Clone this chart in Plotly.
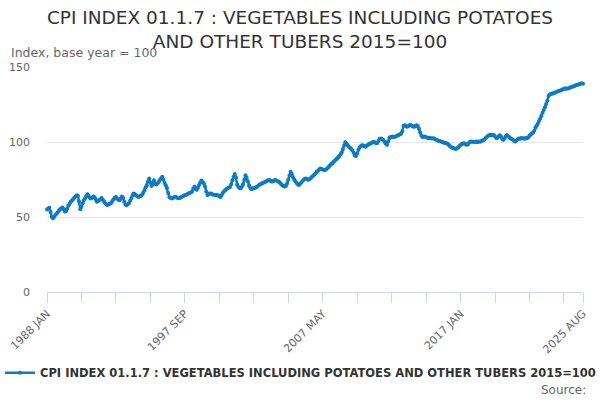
import plotly.graph_objects as go

# CPI index 01.1.7 vegetables incl. potatoes and other tubers (2015=100), monthly
start_year = 1988
months = ['JAN', 'FEB', 'MAR', 'APR', 'MAY', 'JUN', 'JUL', 'AUG', 'SEP', 'OCT', 'NOV', 'DEC']

values = [
    55.0, 55.6, 56.2, 53.4, 50.1, 49.2, 50.0, 51.3, 52.1, 53.0, 54.2, 55.1,  # 1988
    55.8, 56.4, 55.1, 53.6, 53.9, 55.7, 57.6, 58.9, 60.1, 61.0, 61.9, 62.8,  # 1989
    63.6, 64.5, 64.2, 60.3, 55.1, 56.8, 59.0, 61.2, 62.5, 63.9, 65.1, 64.0,  # 1990
    62.9, 62.4, 63.0, 63.7, 63.1, 61.8, 60.2, 60.5, 61.4, 61.9, 62.6, 61.5,  # 1991
    60.3, 59.1, 58.2, 58.0, 58.6, 58.8, 59.4, 60.6, 61.8, 62.9, 63.4, 62.3,  # 1992
    61.5, 61.2, 62.4, 63.6, 62.8, 60.1, 58.3, 57.9, 58.6, 59.2, 60.8, 62.6,  # 1993
    64.5, 65.7, 65.2, 64.3, 63.9, 63.4, 63.9, 64.2, 64.8, 66.1, 67.9, 69.8,  # 1994
    71.0, 73.6, 75.6, 72.8, 70.6, 71.8, 74.5, 72.0, 71.6, 72.5, 73.4, 74.6,  # 1995
    75.8, 76.8, 74.9, 72.6, 71.0, 69.4, 66.0, 63.2, 62.9, 62.4, 62.7, 63.2,  # 1996
    63.5, 63.0, 62.7, 62.5, 62.9, 63.3, 63.6, 64.1, 64.5, 64.9, 65.2, 65.7,  # 1997
    66.0, 66.4, 66.9, 68.8, 70.1, 68.9, 68.1, 69.6, 71.4, 73.2, 74.4, 73.2,  # 1998
    72.3, 70.2, 67.0, 64.6, 65.1, 65.6, 65.7, 65.2, 64.8, 64.9, 64.5, 64.7,  # 1999
    64.3, 63.8, 63.4, 64.6, 66.2, 67.1, 67.8, 68.6, 69.2, 69.6, 70.0, 71.9,  # 2000
    74.5, 76.8, 78.7, 76.3, 71.5, 70.2, 69.4, 69.1, 70.3, 71.8, 74.8, 77.9,  # 2001
    76.2, 73.6, 71.0, 69.3, 68.6, 69.2, 69.0, 69.5, 69.9, 70.3, 71.0, 71.6,  # 2002
    72.0, 72.5, 72.8, 73.1, 73.5, 74.0, 74.5, 74.6, 74.1, 73.6, 73.8, 74.3,  # 2003
    74.7, 74.4, 73.9, 73.5, 72.8, 71.9, 71.2, 70.7, 70.4, 70.6, 72.4, 74.9,  # 2004
    77.6, 80.1, 78.6, 76.5, 75.0, 73.7, 72.6, 71.8, 71.4, 72.2, 73.0, 74.0,  # 2005
    74.9, 75.5, 75.7, 75.1, 74.8, 75.3, 76.0, 76.8, 77.5, 78.4, 79.0, 80.1,  # 2006
    80.9, 81.6, 82.4, 82.0, 81.7, 81.4, 81.3, 81.9, 82.7, 83.4, 84.3, 85.2,  # 2007
    85.9, 86.6, 87.4, 88.1, 88.9, 89.7, 90.6, 91.9, 93.1, 95.3, 97.6, 99.8,  # 2008
    98.9, 97.8, 96.9, 96.1, 95.3, 94.4, 92.8, 91.0, 90.6, 92.5, 94.9, 96.4,  # 2009
    97.2, 97.9, 97.7, 97.2, 96.9, 97.5, 98.1, 98.6, 99.0, 99.4, 99.8, 100.2,  # 2010
    99.7, 99.2, 99.3, 100.8, 102.1, 102.4, 101.8, 101.4, 100.2, 99.0, 98.1, 100.4,  # 2011
    102.6, 103.4, 103.2, 103.7, 103.3, 103.5, 104.0, 104.3, 104.7, 105.1, 105.5, 107.2,  # 2012
    110.9, 111.1, 110.5, 110.2, 110.6, 111.2, 111.3, 110.8, 110.3, 110.1, 110.7, 111.2,  # 2013
    110.6, 108.9, 106.3, 104.1, 103.3, 103.7, 103.5, 103.2, 102.8, 102.5, 102.6, 102.5,  # 2014
    102.3, 102.5, 102.1, 101.7, 101.3, 101.0, 100.7, 100.5, 100.2, 99.9, 99.6, 99.3,  # 2015
    99.2, 98.9, 98.1, 97.2, 96.6, 96.2, 95.9, 95.6, 95.4, 95.8, 96.3, 97.4,  # 2016
    98.0, 98.6, 99.0, 99.2, 98.6, 98.1, 98.4, 99.3, 100.1, 100.3, 100.1, 100.2,  # 2017
    100.0, 100.3, 99.8, 100.4, 100.2, 100.3, 100.8, 101.2, 101.7, 102.6, 103.4, 104.1,  # 2018
    104.5, 104.8, 104.3, 104.6, 104.7, 103.6, 102.7, 102.9, 103.8, 104.5, 103.7, 102.2,  # 2019
    101.5, 102.4, 103.8, 104.6, 103.9, 103.1, 102.5, 102.0, 101.5, 100.9, 100.3, 101.0,  # 2020
    101.8, 102.4, 102.1, 102.6, 102.3, 102.5, 102.2, 102.7, 102.5, 103.2, 104.1, 105.0,  # 2021
    105.6, 106.4, 107.5, 109.6, 110.9, 112.2, 114.0, 115.5, 117.4, 119.5, 121.3, 123.2,  # 2022
    125.3, 127.5, 130.7, 131.6, 132.0, 132.4, 132.3, 132.8, 133.1, 133.5, 133.8, 134.1,  # 2023
    134.4, 134.7, 135.1, 135.4, 135.8, 135.5, 135.7, 135.8, 136.2, 136.6, 136.9, 137.1,  # 2024
    137.4, 137.8, 138.0, 138.3, 138.6, 138.9, 139.1, 138.8,  # 2025
]

dates = [f'{start_year + i // 12} {months[i % 12]}' for i in range(len(values))]

# tick marks every 29 months, labels on every 4th plus the last month
tick_step = 29
label_every = 4
tick_idx = list(range(0, len(values) - tick_step // 2, tick_step)) + [len(values) - 1]
tick_vals = [dates[i] for i in tick_idx]
tick_text = [dates[i] if (k % label_every == 0 or i == len(values) - 1) else '' for k, i in enumerate(tick_idx)]

series_name = 'CPI INDEX 01.1.7 : VEGETABLES INCLUDING POTATOES AND OTHER TUBERS 2015=100'
blue = '#0c7bc4'

fig = go.Figure()
fig.add_trace(go.Scatter(
    x=dates,
    y=values,
    mode='lines+markers',
    name=series_name,
    line=dict(color=blue, width=2.5),
    marker=dict(color=blue, size=4),
    cliponaxis=False
))

fig.update_layout(
    width=600,
    height=400,
    paper_bgcolor='white',
    plot_bgcolor='white',
    font=dict(family='DejaVu Sans', color='#666666', size=11),
    title=dict(
        text='CPI INDEX 01.1.7 : VEGETABLES INCLUDING POTATOES<br>AND OTHER TUBERS 2015=100',
        x=0.5, xanchor='center', xref='container',
        y=0.94, yanchor='middle',
        font=dict(size=18.5, color='#333333'),
        automargin=False
    ),
    margin=dict(l=47, r=17, t=67, b=108, autoexpand=False),
    showlegend=True,
    legend=dict(
        orientation='h', xref='container', yref='container',
        x=0, xanchor='left', y=0.068, yanchor='middle',
        font=dict(size=11.5, color='#333333', weight='bold'),
        itemwidth=30
    ),
    xaxis=dict(
        type='category',
        range=[0, len(values) - 1],
        tickmode='array',
        tickvals=tick_vals,
        ticktext=tick_text,
        tickangle=-45,
        ticks='outside',
        ticklen=10,
        tickcolor='#ccd6eb',
        showline=True,
        linecolor='#ccd6eb',
        showgrid=False,
        zeroline=False,
        automargin=False
    ),
    yaxis=dict(
        range=[0, 150],
        tickvals=[0, 50, 100, 150],
        gridcolor='#e6e6e6',
        zeroline=False,
        ticklabelstandoff=16,
        automargin=False
    ),
    annotations=[
        dict(text='Index, base year = 100', xref='paper', yref='paper',
             x=-0.07, y=1.065, xanchor='left', yanchor='middle',
             showarrow=False, font=dict(size=12.5, color='#666666')),
        dict(text='Source:', xref='paper', yref='paper',
             x=1.009, y=-0.435, xanchor='right', yanchor='middle',
             showarrow=False, font=dict(size=12, color='#666666')),
    ]
)

# remove the default page margin so the figure sits at the window's corner
fig.write_html('out.html', config={'displayModeBar': False},
               post_script="document.body.style.margin='0';")
